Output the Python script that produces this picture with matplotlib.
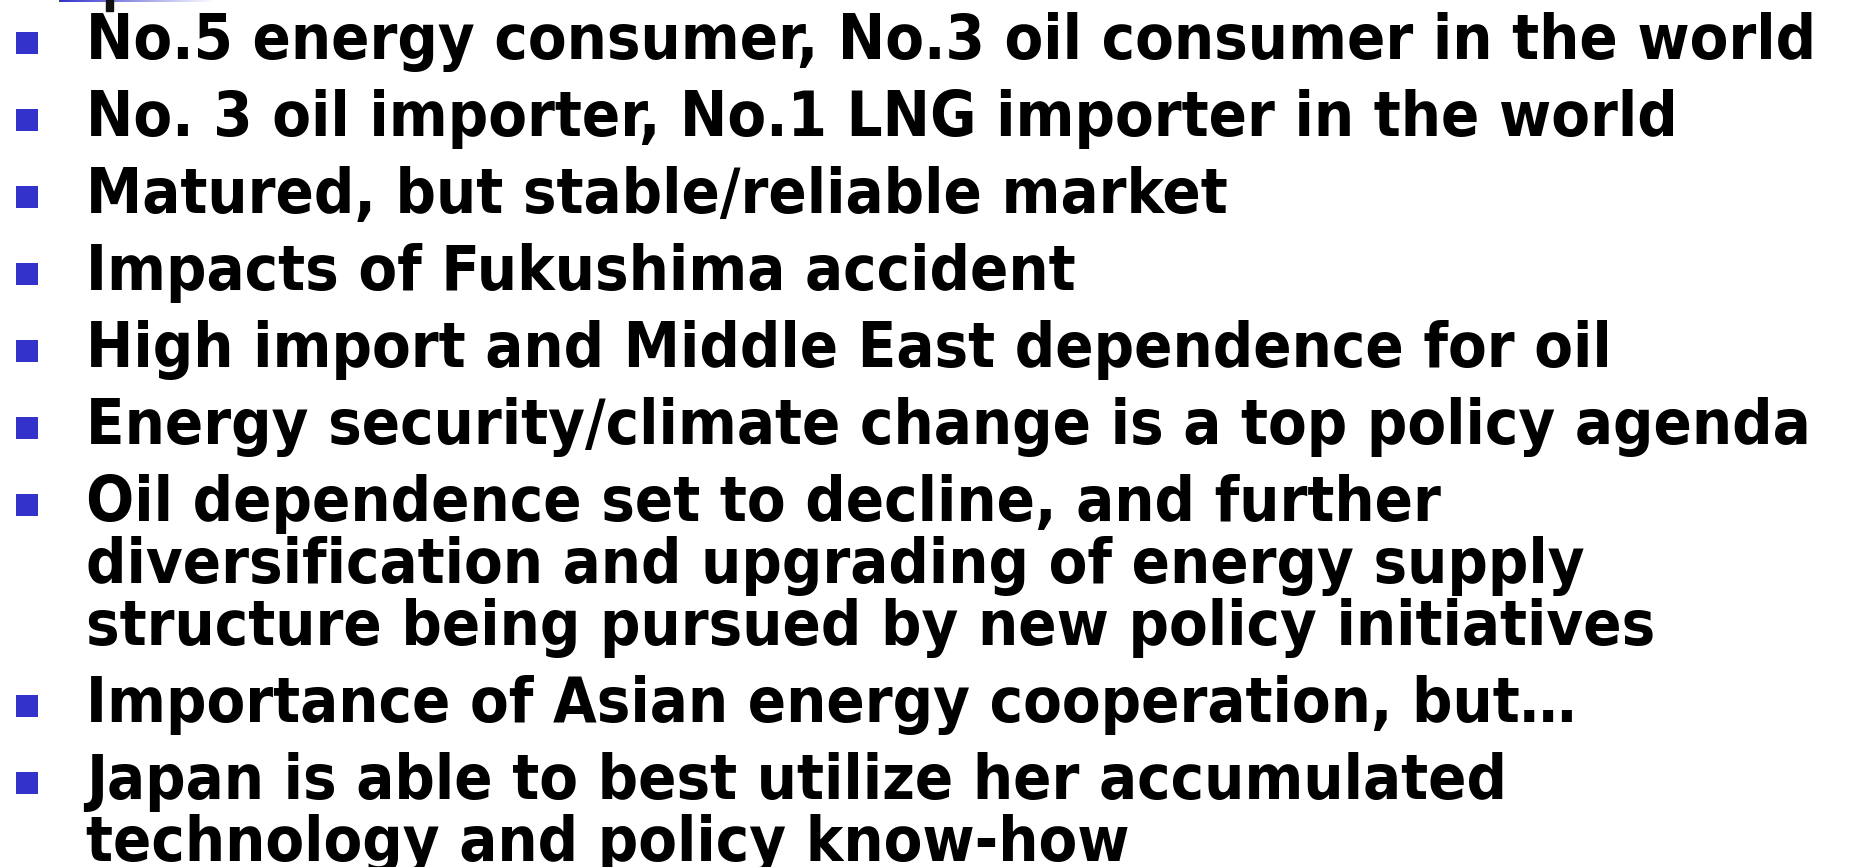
import numpy as np
import matplotlib
matplotlib.use("Agg")
import matplotlib.pyplot as plt
from matplotlib.patches import Rectangle
from matplotlib import font_manager

W, H = 1852, 867

# bullet items (each item may wrap onto several lines)
bullets = [
    ["No.5 energy consumer, No.3 oil consumer in the world"],
    ["No. 3 oil importer, No.1 LNG importer in the world"],
    ["Matured, but stable/reliable market"],
    ["Impacts of Fukushima accident"],
    ["High import and Middle East dependence for oil"],
    ["Energy security/climate change is a top policy agenda"],
    ["Oil dependence set to decline, and further",
     "diversification and upgrading of energy supply",
     "structure being pursued by new policy initiatives"],
    ["Importance of Asian energy cooperation, but\u2026"],
    ["Japan is able to best utilize her accumulated",
     "technology and policy know-how"],
]

bullet_color = "#3333CC"
font_size = 45.3
first_baseline = 59
item_gap = 77
wrap_gap = 62
text_x = 86

fp = font_manager.FontProperties(family="DejaVu Sans", weight="bold",
                                 stretch="condensed", size=font_size)

fig = plt.figure(figsize=(W / 100, H / 100), dpi=100)
fig.patch.set_facecolor("white")
ax = fig.add_axes([0, 0, 1, 1])
ax.set_xlim(0, W)
ax.set_ylim(H, 0)
ax.axis("off")

# top edge: gradient rule and bit of the cut-off title
grad = np.linspace(0, 1, 256).reshape(1, -1)
c0 = np.array(matplotlib.colors.to_rgb(bullet_color))
img = c0[None, None, :] * (1 - grad[..., None]) + np.ones(3)[None, None, :] * grad[..., None]
ax.imshow(img, extent=(59, 215, 2.5, 0), aspect="auto", zorder=1)
ax.add_patch(Rectangle((106, 0), 7, 11, color="#111111", zorder=2))

y = first_baseline
for item in bullets:
    ax.add_patch(Rectangle((16, y - 27), 22, 22, color=bullet_color, lw=0))
    for j, line in enumerate(item):
        if j > 0:
            y += wrap_gap
        ax.text(text_x, y, line, fontproperties=fp,
                color="black", va="baseline", ha="left")
    y += item_gap

fig.savefig("out.png", dpi=100, facecolor="white")
